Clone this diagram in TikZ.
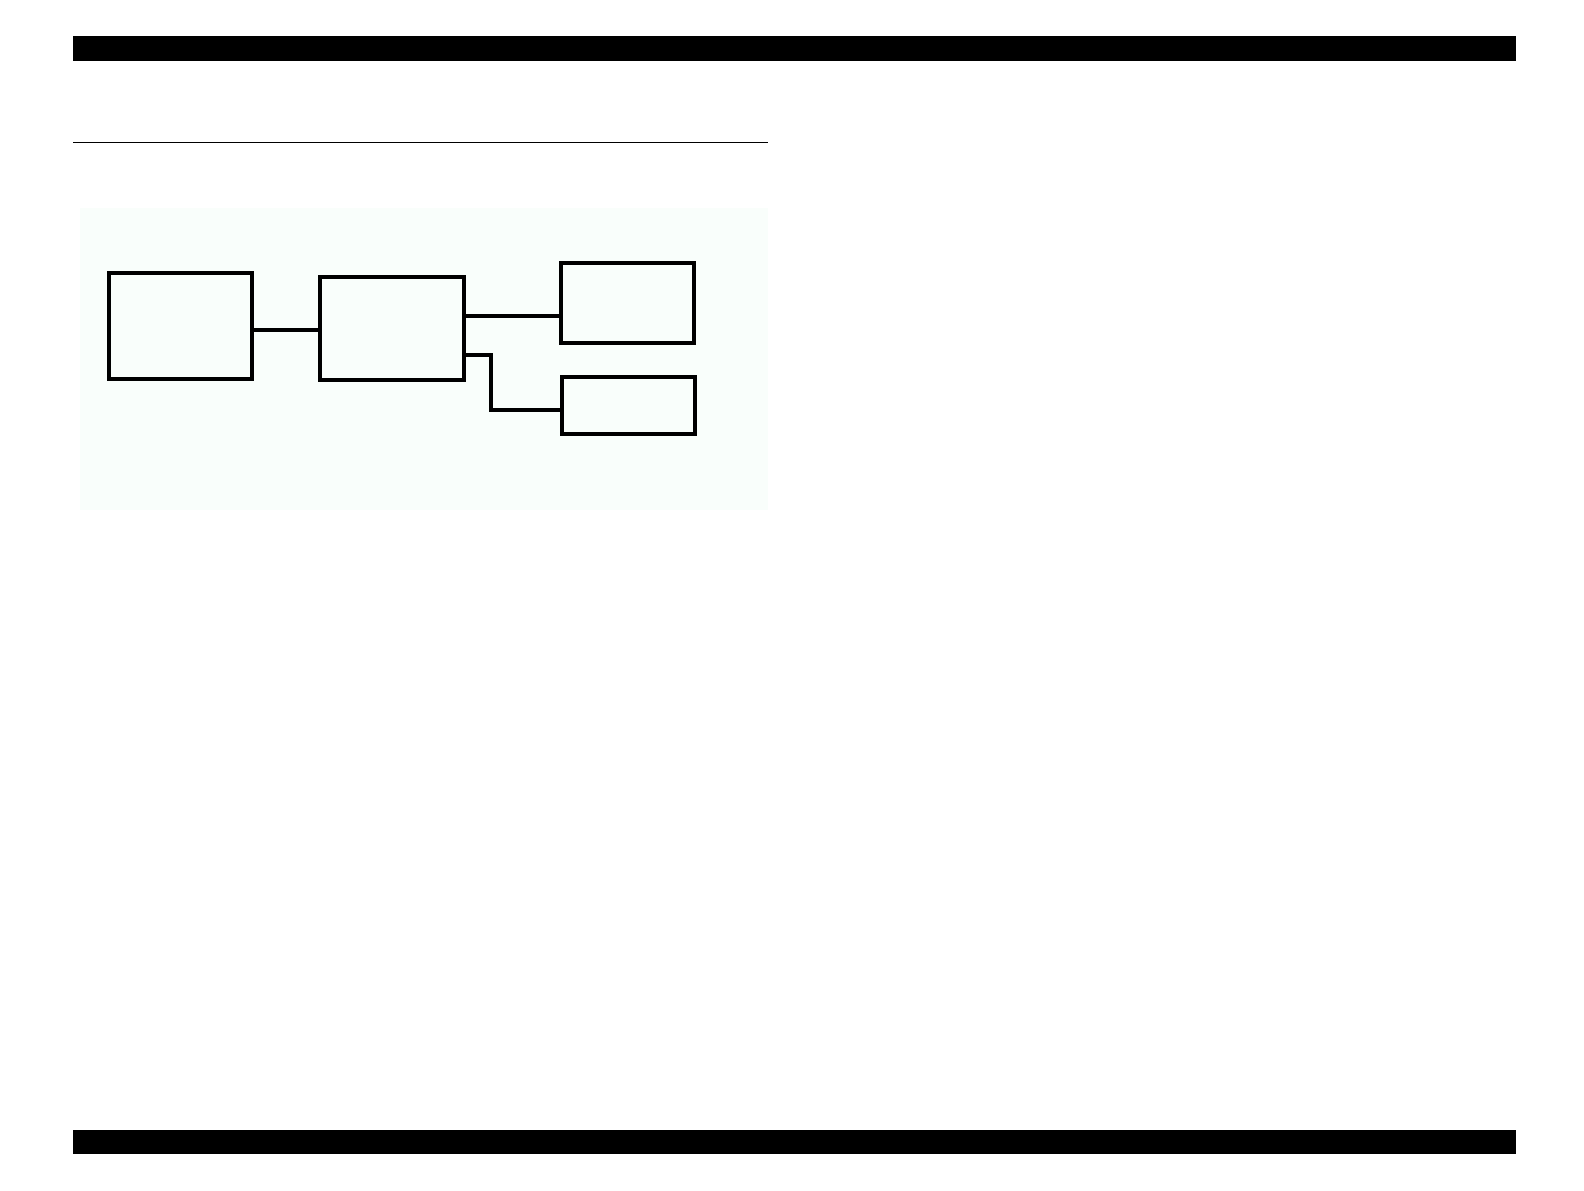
\documentclass[tikz,border=0pt]{standalone}
\definecolor{panelbg}{HTML}{F9FEFB}
\tikzset{
  blockbox/.style={draw=black, line width=2pt, fill=panelbg, inner sep=0pt, rectangle},
  wire/.style={draw=black, line width=2pt},
  barfill/.style={fill=black, draw=none}
}
\begin{document}
\begin{tikzpicture}[x=0.5pt,y=-0.5pt]
\useasboundingbox (0,0) rectangle (1584,1190);
\fill[white] (0,0) rectangle (1584,1190);
% header and footer bars
\path[barfill] (73,36) rectangle (1516,60.7);
\path[barfill] (73,1130) rectangle (1516,1154);
% rule
\draw[line width=0.5pt] (73,142.3) -- (768,142.3);
% panel background
\fill[panelbg] (80,208) rectangle (768,510);
% blocks
\node[blockbox, minimum width=71.5pt, minimum height=53pt] (A) at (180.8,326) {};
\node[blockbox, minimum width=71.7pt, minimum height=51.65pt] (B) at (392,328.7) {};
\node[blockbox, minimum width=66.2pt, minimum height=39.7pt] (C) at (627.5,303) {};
\node[blockbox, minimum width=66.5pt, minimum height=28.5pt] (D) at (628.5,405.8) {};
% connectors
\coordinate (ab) at (0,330);
\coordinate (bc) at (0,316);
\coordinate (bd) at (0,355.3);
\coordinate (dd) at (0,410);
\coordinate (bend) at (491.3,0);
\draw[wire] (A.east |- ab) -- ([xshift=1pt]B.west |- ab);
\draw[wire] (B.east |- bc) -- ([xshift=2pt]C.west |- bc);
\draw[wire] (B.east |- bd) -- (bend |- bd) -- (bend |- dd) -- (D.west |- dd);
\end{tikzpicture}
\end{document}
